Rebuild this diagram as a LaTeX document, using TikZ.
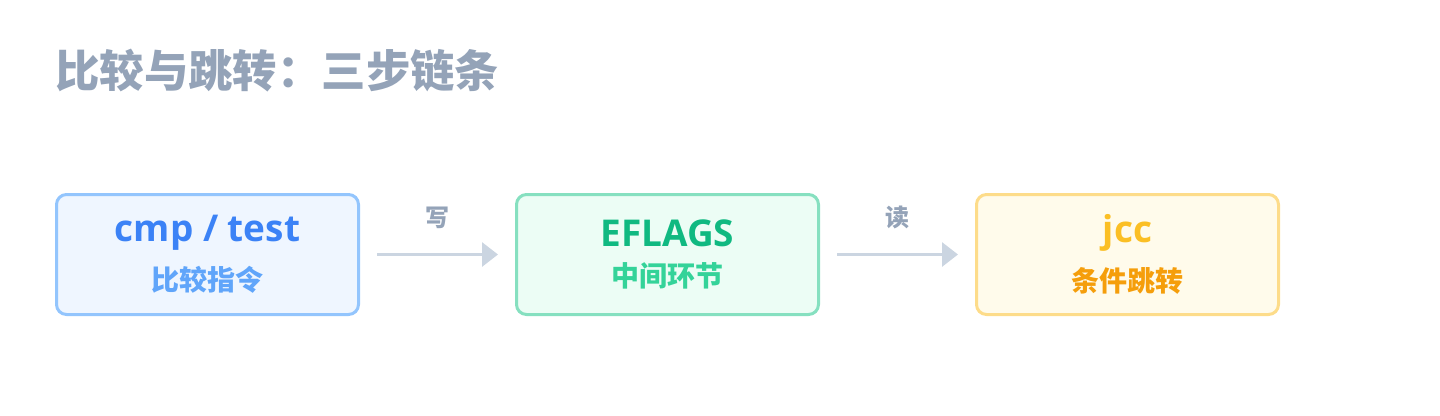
\documentclass[tikz,border=0pt]{standalone}
\usepackage{fontspec}
\setmainfont{Open Sans}
\newfontfamily\cjk{Noto Sans CJK SC}
\usepackage{tikz}
\usetikzlibrary{arrows.meta,positioning}
\usepackage{xcolor}
\definecolor{titlegray}{HTML}{94A3B8}
\definecolor{arrowgray}{HTML}{CBD5E1}
\definecolor{cmpblue}{HTML}{3B82F6}
\definecolor{cmplightblue}{HTML}{60A5FA}
\definecolor{cmpborder}{HTML}{93C5FD}
\definecolor{cmpfill}{HTML}{EFF6FF}
\definecolor{flaggreen}{HTML}{10B981}
\definecolor{flaglightgreen}{HTML}{34D399}
\definecolor{flagborder}{HTML}{86E0C0}
\definecolor{flagfill}{HTML}{ECFDF5}
\definecolor{jccyellow}{HTML}{FBBF24}
\definecolor{jccorange}{HTML}{F59E0B}
\definecolor{jccborder}{HTML}{FDDC8A}
\definecolor{jccfill}{HTML}{FFFBEB}
\tikzstyle{arrow} = [line width=2.25pt,-{Triangle[length=12pt,width=18pt]},color=arrowgray,shorten <=12.75pt,shorten >=12.75pt]
\tikzstyle{stagebox} = [rectangle, rounded corners=7.5pt, minimum width=226.5pt, minimum height=90pt, line width=2.25pt, align=center, inner sep=0pt]
\tikzstyle{arrowlabel} = [font=\cjk\bfseries\fontsize{18}{20}\selectfont, text=titlegray, inner sep=0pt]

\begin{document}
\begin{tikzpicture}[x=0.75pt,y=-0.75pt]
\useasboundingbox (0,0) rectangle (1440,415);

% Title
\node[anchor=west, inner sep=0pt, text=titlegray, font=\cjk\bfseries\fontsize{33.3}{36}\selectfont] (title) at (55,71) {比较与跳转：三步链条};

% Compare
\node[stagebox, draw=cmpborder, fill=cmpfill] (cmp) at (207.5,254.5) {
{\bfseries\fontsize{27.7}{30}\selectfont\color{cmpblue}cmp / test}\\[11pt]
{\cjk\bfseries\fontsize{21}{22}\selectfont\color{cmplightblue}比较指令}
};

% Flags
\node[stagebox, draw=flagborder, fill=flagfill, right=116.25pt of cmp] (flags) {
{\bfseries\fontsize{27.7}{30}\selectfont\color{flaggreen}EFLAGS}\\[11pt]
{\cjk\bfseries\fontsize{21}{22}\selectfont\color{flaglightgreen}中间环节}
};

% Jump
\node[stagebox, draw=jccborder, fill=jccfill, right=116.25pt of flags] (jcc) {
{\bfseries\fontsize{27.7}{30}\selectfont\color{jccyellow}jcc}\\[11pt]
{\cjk\bfseries\fontsize{21}{22}\selectfont\color{jccorange}条件跳转}
};

\draw[arrow] (cmp) -- node[arrowlabel, above=18pt] (write) {写} (flags);
\draw[arrow] (flags) -- node[arrowlabel, above=18pt] (read) {读} (jcc);
\end{tikzpicture}
\end{document}
